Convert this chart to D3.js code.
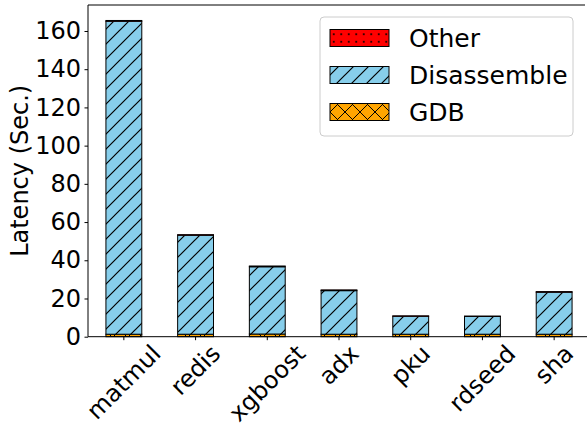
<!DOCTYPE html>
<html>
<head>
<meta charset="utf-8">
<script src="https://cdn.jsdelivr.net/npm/d3@7"></script>
<style>
  body { margin: 0; background: #fff; }
  text { font-family: "DejaVu Sans", sans-serif; fill: #000; }
</style>
</head>
<body>
<div id="drawing"></div>
<script>
// chart data, bottom to top: GDB, Disassemble, Other
const categories = ["matmul", "redis", "xgboost", "adx", "pku", "rdseed", "sha"];
const gdb = [1.3, 1.3, 1.4, 1.3, 1.3, 1.3, 1.3];
const disassemble = [163.8, 51.8, 35.2, 22.8, 9.4, 9.3, 22.0];
const other = [0.4, 0.3, 0.4, 0.4, 0.2, 0.2, 0.3];
const yTicks = [0, 20, 40, 60, 80, 100, 120, 140, 160];
const seriesNames = ["GDB", "Disassemble", "Other"];

const width = 587;
const height = 430;
const plot = {left: 88, right: 590, top: 5, bottom: 336.7};
const fontSize = 24;

const svg = d3.select("#drawing").append("svg")
  .attr("width", width)
  .attr("height", height);

// hatch patterns
const defs = svg.append("defs");

let diag = defs.append("pattern")
  .attr("id", "hatchDiag")
  .attr("patternUnits", "userSpaceOnUse")
  .attr("width", 15).attr("height", 15);
diag.append("rect").attr("width", 15).attr("height", 15).attr("fill", "#87ceeb");
diag.append("path")
  .attr("d", "M0,15 L15,0 M-3,3 L3,-3 M12,18 L18,12")
  .attr("stroke", "#000").attr("stroke-width", 1.2);

let cross = defs.append("pattern")
  .attr("id", "hatchCross")
  .attr("patternUnits", "userSpaceOnUse")
  .attr("width", 15).attr("height", 15);
cross.append("rect").attr("width", 15).attr("height", 15).attr("fill", "#ffa500");
cross.append("path")
  .attr("d", "M0,15 L15,0 M-3,3 L3,-3 M12,18 L18,12 M0,0 L15,15 M-3,12 L3,18 M12,-3 L18,3")
  .attr("stroke", "#000").attr("stroke-width", 1);

let dots = defs.append("pattern")
  .attr("id", "hatchDots")
  .attr("patternUnits", "userSpaceOnUse")
  .attr("width", 7.5).attr("height", 7.5);
dots.append("rect").attr("width", 7.5).attr("height", 7.5).attr("fill", "#ff0000");
dots.append("circle").attr("cx", 3.75).attr("cy", 3.75).attr("r", 1).attr("fill", "#000");

const fills = {GDB: "url(#hatchCross)", Disassemble: "url(#hatchDiag)", Other: "url(#hatchDots)"};

// scales
const x = d3.scaleBand()
  .domain(categories)
  .range([plot.left, plot.right])
  .paddingInner(0.5)
  .paddingOuter(0.25);

const y = d3.scaleLinear()
  .domain([0, 173.6])
  .range([plot.bottom, plot.top]);

// stacked data
const rows = categories.map((c, i) => ({cat: c, GDB: gdb[i], Disassemble: disassemble[i], Other: other[i]}));
const stacked = d3.stack().keys(seriesNames)(rows);

svg.append("g")
  .selectAll("g")
  .data(stacked)
  .join("g")
    .attr("fill", d => fills[d.key])
  .selectAll("rect")
  .data(d => d)
  .join("rect")
    .attr("x", d => x(d.data.cat))
    .attr("width", x.bandwidth())
    .attr("y", d => y(d[1]))
    .attr("height", d => y(d[0]) - y(d[1]))
    .attr("stroke", "#000")
    .attr("stroke-width", 1);

// y axis
const yAxis = svg.append("g")
  .attr("transform", `translate(${plot.left},0)`)
  .call(d3.axisLeft(y).tickValues(yTicks).tickSize(3.5).tickPadding(3.5).tickSizeOuter(0));
yAxis.select(".domain").remove();
yAxis.selectAll("text").style("font-size", fontSize + "px").attr("font-family", null);
yAxis.selectAll("line").attr("stroke", "#000");

// x axis
const xAxis = svg.append("g")
  .attr("transform", `translate(0,${plot.bottom})`)
  .call(d3.axisBottom(x).tickSize(3.5).tickSizeOuter(0));
xAxis.select(".domain").remove();
xAxis.selectAll("line").attr("stroke", "#000");
xAxis.selectAll("text").remove();

// rotated x labels, bbox centred under the tick
const labelTop = plot.bottom + 6;
svg.append("g")
  .selectAll("text")
  .data(categories)
  .join("text")
    .text(d => d)
    .style("font-size", fontSize + "px")
    .attr("text-anchor", "middle")
    .attr("dominant-baseline", "central")
    .each(function(d) {
      const len = this.getComputedTextLength();
      const cx = x(d) + x.bandwidth() / 2;
      const cy = labelTop + (len / 2 + fontSize * 0.4) * Math.SQRT1_2;
      d3.select(this).attr("transform", `translate(${cx},${cy}) rotate(-45)`);
    });

// spines
svg.append("line")
  .attr("x1", plot.left).attr("x2", plot.left)
  .attr("y1", plot.top).attr("y2", plot.bottom)
  .attr("stroke", "#000").attr("stroke-width", 1);
svg.append("line")
  .attr("x1", plot.left).attr("x2", plot.right)
  .attr("y1", plot.bottom).attr("y2", plot.bottom)
  .attr("stroke", "#000").attr("stroke-width", 1);
svg.append("line")
  .attr("x1", plot.left).attr("x2", 585)
  .attr("y1", plot.top).attr("y2", plot.top)
  .attr("stroke", "#000").attr("stroke-width", 1);

// y label
svg.append("text")
  .attr("transform", `translate(20,${(plot.top + plot.bottom) / 2}) rotate(-90)`)
  .attr("text-anchor", "middle")
  .attr("dominant-baseline", "central")
  .style("font-size", fontSize + "px")
  .text("Latency (Sec.)");

// legend
const legend = svg.append("g").attr("transform", "translate(320,17)");
legend.append("rect")
  .attr("width", 253).attr("height", 119)
  .attr("rx", 4)
  .attr("fill", "#fff").attr("fill-opacity", 0.8)
  .attr("stroke", "#ccc");

const legendItems = seriesNames.slice().reverse();
const item = legend.selectAll("g.item")
  .data(legendItems)
  .join("g")
    .attr("class", "item")
    .attr("transform", (d, i) => `translate(10,${21 + i * 37})`);
item.append("rect")
  .attr("y", -8.5)
  .attr("width", 59).attr("height", 17)
  .attr("fill", d => fills[d])
  .attr("stroke", "#000").attr("stroke-width", 1);
item.append("text")
  .attr("x", 79)
  .attr("dominant-baseline", "central")
  .style("font-size", "25px")
  .text(d => d);
</script>
</body>
</html>
